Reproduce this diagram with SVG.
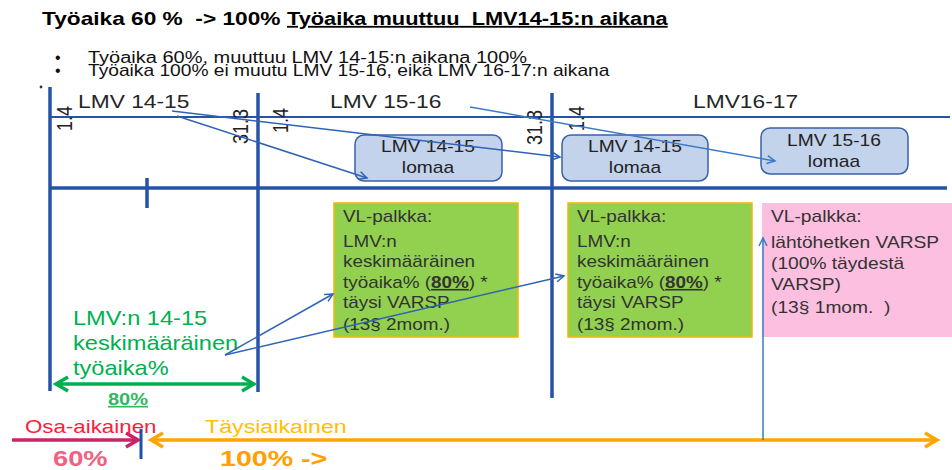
<svg xmlns="http://www.w3.org/2000/svg" width="952" height="470" viewBox="0 0 952 470">
<style>
text{font-family:"Liberation Sans",Arial,sans-serif;}
.title{font-size:18px;font-weight:bold;fill:#000;white-space:pre;}
.bul{font-size:16px;fill:#111;}
.col{font-size:19px;fill:#262626;}
.rot{font-size:18px;fill:#222;}
.lom{font-size:16px;fill:#222;text-anchor:middle;}
.box{font-size:16px;fill:#333;}
.gtxt{font-size:20px;fill:#00b050;}
.axis{stroke:#2453a8;stroke-width:3.5;fill:none;}
.thin{stroke:#2453a8;stroke-width:2;fill:none;}
.conn{stroke:#2f63b5;stroke-width:1.5;fill:none;marker-end:url(#ah);}
.conn2{stroke:#3a7bc8;stroke-width:1.5;fill:none;marker-end:url(#ah2);}
.lomaa{fill:#c3d3ec;stroke:#3a62a8;stroke-width:1.5;}
.gbox{fill:#92d050;stroke:#f2b800;stroke-width:1.5;}
</style>
<defs>
<marker id="ah" markerUnits="userSpaceOnUse" markerWidth="12" markerHeight="12" refX="9" refY="5" orient="auto"><path d="M1,1 L9,5 L1,9" fill="none" stroke="#2f63b5" stroke-width="1.5"/></marker>
<marker id="ah2" markerUnits="userSpaceOnUse" markerWidth="12" markerHeight="12" refX="9" refY="5" orient="auto"><path d="M1,1 L9,5 L1,9" fill="none" stroke="#3a7bc8" stroke-width="1.5"/></marker>
<marker id="gh" markerUnits="userSpaceOnUse" markerWidth="20" markerHeight="20" refX="15" refY="10" orient="auto-start-reverse"><path d="M3,3 L15,10 L3,17" fill="none" stroke="#00b050" stroke-width="3.5"/></marker>
<marker id="oh" markerUnits="userSpaceOnUse" markerWidth="20" markerHeight="20" refX="15" refY="10" orient="auto-start-reverse"><path d="M3,3 L15,10 L3,17" fill="none" stroke="#ffa500" stroke-width="3.5"/></marker>
<marker id="mh" markerUnits="userSpaceOnUse" markerWidth="20" markerHeight="20" refX="15" refY="10" orient="auto"><path d="M3,3 L15,10 L3,17" fill="none" stroke="#cc2266" stroke-width="3.5"/></marker>
</defs>

<g id="title">
<text class="title" transform="matrix(1.26 0 0 1 42 0)" y="25">Työaika 60 %  -&gt; 100%</text>
<text class="title" transform="matrix(1.21 0 0 1 287 0)" y="25" text-decoration="underline">Työaika muuttuu  LMV14-15:n aikana</text>
</g>

<g id="bullets">
<text class="bul" x="55" y="63">•</text>
<text class="bul" x="55" y="76">•</text>
<text class="bul" transform="matrix(1.25 0 0 1 88 0)" y="63">Työaika 60%, muuttuu LMV 14-15:n aikana 100%</text>
<text class="bul" transform="matrix(1.2 0 0 1 88 0)" y="76">Työaika 100% ei muutu LMV 15-16, eikä LMV 16-17:n aikana</text>
<circle cx="41" cy="87" r="1.4" fill="#333"/>
</g>

<g id="timeline">
<line class="axis" x1="50" y1="87" x2="50" y2="391"/>
<line class="axis" x1="258" y1="93" x2="258" y2="392"/>
<line class="axis" x1="552" y1="93" x2="552" y2="398"/>
<line class="thin" x1="50" y1="117" x2="950" y2="117"/>
<line class="axis" x1="50" y1="188" x2="947" y2="188"/>
<line class="axis" x1="147" y1="178" x2="147" y2="208"/>
</g>

<g id="period-labels">
<text class="col" transform="matrix(1.2 0 0 1 78 0)" y="108">LMV 14-15</text>
<text class="col" transform="matrix(1.2 0 0 1 330 0)" y="108">LMV 15-16</text>
<text class="col" transform="matrix(1.2 0 0 1 693 0)" y="108">LMV16-17</text>
<text class="rot" transform="matrix(0 -1 1.2 0 72 131)">1.4</text>
<text class="rot" transform="matrix(0 -1 1.2 0 248 144)">31.3</text>
<text class="rot" transform="matrix(0 -1 1.2 0 288 133)">1.4</text>
<text class="rot" transform="matrix(0 -1 1.2 0 542 145)">31.3</text>
<text class="rot" transform="matrix(0 -1 1.2 0 584 131)">1.4</text>
</g>

<g id="lomaa-1415">
<rect class="lomaa" x="355" y="135" width="147" height="46" rx="9"/>
<text class="lom" transform="matrix(1.2 0 0 1 428 0)" y="152">LMV 14-15</text>
<text class="lom" transform="matrix(1.2 0 0 1 428 0)" y="173">lomaa</text>
</g>
<g id="lomaa-1415b">
<rect class="lomaa" x="562" y="135" width="146" height="46" rx="9"/>
<text class="lom" transform="matrix(1.2 0 0 1 635 0)" y="152">LMV 14-15</text>
<text class="lom" transform="matrix(1.2 0 0 1 635 0)" y="173">lomaa</text>
</g>
<g id="lomaa-1516">
<rect class="lomaa" x="761" y="128" width="147" height="46" rx="9"/>
<text class="lom" transform="matrix(1.2 0 0 1 834 0)" y="146">LMV 15-16</text>
<text class="lom" transform="matrix(1.2 0 0 1 834 0)" y="167">lomaa</text>
</g>

<g id="vl-palkka-1">
<rect class="gbox" x="334" y="203" width="184" height="134"/>
<text class="box" transform="matrix(1.18 0 0 1 343 0)">
<tspan x="0" y="222">VL-palkka:</tspan>
<tspan x="0" y="247">LMV:n</tspan>
<tspan x="0" y="267.5">keskimääräinen</tspan>
<tspan x="0" y="288">työaika% (<tspan font-weight="bold" text-decoration="underline">80%</tspan>) *</tspan>
<tspan x="0" y="308.5">täysi VARSP</tspan>
<tspan x="0" y="330">(13§ 2mom.)</tspan>
</text>
</g>
<g id="vl-palkka-2">
<rect class="gbox" x="568" y="203" width="184" height="134"/>
<text class="box" transform="matrix(1.18 0 0 1 577 0)">
<tspan x="0" y="222">VL-palkka:</tspan>
<tspan x="0" y="247">LMV:n</tspan>
<tspan x="0" y="267.5">keskimääräinen</tspan>
<tspan x="0" y="288">työaika% (<tspan font-weight="bold" text-decoration="underline">80%</tspan>) *</tspan>
<tspan x="0" y="308.5">täysi VARSP</tspan>
<tspan x="0" y="330">(13§ 2mom.)</tspan>
</text>
</g>
<g id="vl-palkka-3">
<rect x="762" y="203" width="190" height="134" fill="#fdbfe0"/>
<text class="box" transform="matrix(1.2 0 0 1 771 0)" style="white-space:pre">
<tspan x="0" y="222">VL-palkka:</tspan>
<tspan x="0" y="248">lähtöhetken VARSP</tspan>
<tspan x="0" y="269">(100% täydestä</tspan>
<tspan x="0" y="290">VARSP)</tspan>
<tspan x="0" y="313">(13§ 1mom.  )</tspan>
</text>
</g>

<g id="avg-worktime">
<text class="gtxt" transform="matrix(1.18 0 0 1 73 0)">
<tspan x="0" y="325">LMV:n 14-15</tspan>
<tspan x="0" y="350">keskimääräinen</tspan>
<tspan x="0" y="375">työaika%</tspan>
</text>
<line x1="56" y1="384" x2="254" y2="384" stroke="#00b050" stroke-width="3.5" marker-start="url(#gh)" marker-end="url(#gh)"/>
<text transform="matrix(1.25 0 0 1 108 0)" y="405" font-size="16" font-weight="bold" fill="#2fb860" text-decoration="underline">80%</text>
</g>

<g id="bottom-bar">
<text transform="matrix(1.24 0 0 1 25 0)" y="433" font-size="18" fill="#ff1a3c">Osa-aikainen</text>
<line x1="12" y1="440" x2="138" y2="440" stroke="#cc2266" stroke-width="3.5" marker-end="url(#mh)"/>
<line x1="141" y1="429" x2="141" y2="459" stroke="#1f4fa8" stroke-width="3"/>
<text transform="matrix(1.24 0 0 1 53 0)" y="466" font-size="22" font-weight="bold" fill="#f0627f">60%</text>
<text transform="matrix(1.22 0 0 1 205 0)" y="433" font-size="19" fill="#ffc000">Täysiaikainen</text>
<line x1="151" y1="440" x2="937" y2="440" stroke="#ffa500" stroke-width="3.5" marker-start="url(#oh)" marker-end="url(#oh)"/>
<text transform="matrix(1.3 0 0 1 220 0)" y="466" font-size="22" font-weight="bold" fill="#ffa000">100% -&gt;</text>
</g>

<g id="connectors">
<line class="conn" x1="172" y1="111" x2="560" y2="157"/>
<line class="conn" x1="177" y1="116" x2="367" y2="178"/>
<line class="conn2" x1="470" y1="107" x2="775" y2="161"/>
<line class="conn" x1="225" y1="355" x2="333" y2="294"/>
<line class="conn" x1="225" y1="355" x2="564" y2="276"/>
<line class="conn2" x1="763" y1="440" x2="763" y2="238"/>
</g>
</svg>
